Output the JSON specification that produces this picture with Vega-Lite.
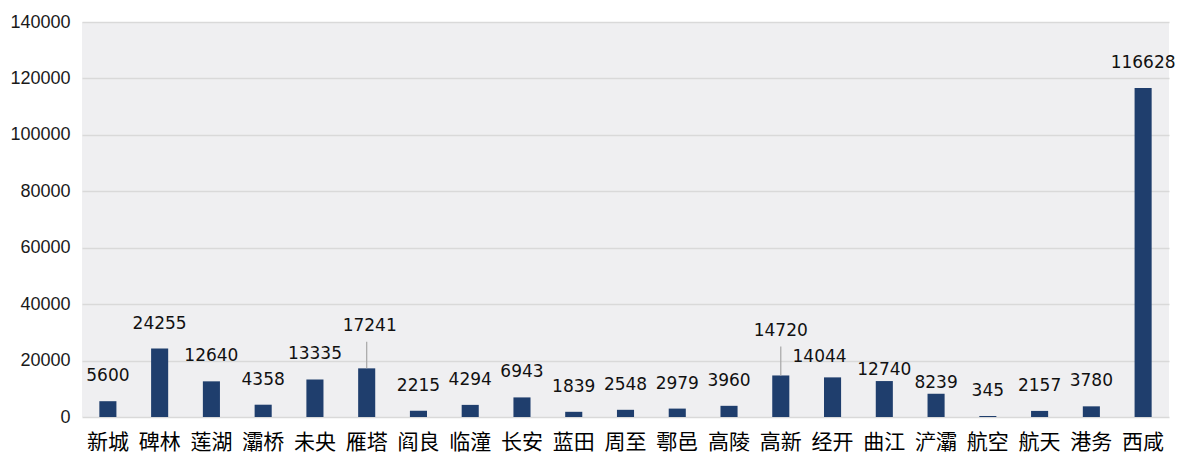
{
  "$schema": "https://vega.github.io/schema/vega-lite/v6.json",
  "width": 1087,
  "height": 395,
  "autosize": {"type": "none"},
  "padding": {"left": 82, "top": 22, "right": 10, "bottom": 38},
  "background": "white",
  "config": {"view": {"fill": "#efeff1", "stroke": null}},
  "data": {"values": [
    {"district": "新城", "value": 5600},
    {"district": "碑林", "value": 24255},
    {"district": "莲湖", "value": 12640},
    {"district": "灞桥", "value": 4358},
    {"district": "未央", "value": 13335},
    {"district": "雁塔", "value": 17241},
    {"district": "阎良", "value": 2215},
    {"district": "临潼", "value": 4294},
    {"district": "长安", "value": 6943},
    {"district": "蓝田", "value": 1839},
    {"district": "周至", "value": 2548},
    {"district": "鄠邑", "value": 2979},
    {"district": "高陵", "value": 3960},
    {"district": "高新", "value": 14720},
    {"district": "经开", "value": 14044},
    {"district": "曲江", "value": 12740},
    {"district": "浐灞", "value": 8239},
    {"district": "航空", "value": 345},
    {"district": "航天", "value": 2157},
    {"district": "港务", "value": 3780},
    {"district": "西咸", "value": 116628}
  ]},
  "encoding": {
    "x": {
      "field": "district", "type": "nominal", "sort": null,
      "scale": {"paddingInner": 0.67, "paddingOuter": 0.335},
      "axis": {"title": null, "labelAngle": 0, "domain": false, "ticks": false,
               "labelFont": "Noto Sans CJK SC", "labelFontSize": 21, "labelColor": "#000000",
               "labelPadding": 14}
    },
    "y": {
      "field": "value", "type": "quantitative",
      "scale": {"domain": [0, 140000], "nice": false},
      "axis": {"title": null, "values": [0, 20000, 40000, 60000, 80000, 100000, 120000, 140000],
               "domain": false, "ticks": false, "grid": true, "gridColor": "#d9d9d9", "gridWidth": 1.5,
               "labelFont": "Liberation Sans", "labelFontSize": 18, "labelColor": "#1a1a1a",
               "labelPadding": 12, "format": "d"}
    }
  },
  "layer": [
    {"mark": {"type": "bar", "color": "#1f3e6d"}},
    {
      "transform": [{"filter": "datum.district == '雁塔'"}],
      "mark": {"type": "rule", "color": "#a6a6a6", "strokeWidth": 1.2},
      "encoding": {"y2": {"datum": 26700}}
    },
    {
      "transform": [{"filter": "datum.district == '高新'"}],
      "mark": {"type": "rule", "color": "#a6a6a6", "strokeWidth": 1.2},
      "encoding": {"y2": {"datum": 24950}}
    },
    {
      "transform": [{"filter": "indexof(['雁塔','高新','经开','曲江','浐灞'], datum.district) < 0"}],
      "mark": {"type": "text", "font": "DejaVu Sans", "fontSize": 17, "color": "#111111", "baseline": "middle", "dy": -25},
      "encoding": {"text": {"field": "value", "type": "quantitative", "format": "d"}}
    },
    {
      "transform": [{"filter": "datum.district == '雁塔'"}],
      "mark": {"type": "text", "font": "DejaVu Sans", "fontSize": 17, "color": "#111111", "baseline": "middle", "dy": -42, "dx": 3},
      "encoding": {"text": {"field": "value", "type": "quantitative", "format": "d"}}
    },
    {
      "transform": [{"filter": "datum.district == '高新'"}],
      "mark": {"type": "text", "font": "DejaVu Sans", "fontSize": 17, "color": "#111111", "baseline": "middle", "dy": -44},
      "encoding": {"text": {"field": "value", "type": "quantitative", "format": "d"}}
    },
    {
      "transform": [{"filter": "datum.district == '经开'"}],
      "mark": {"type": "text", "font": "DejaVu Sans", "fontSize": 17, "color": "#111111", "baseline": "middle", "dy": -20, "dx": -13},
      "encoding": {"text": {"field": "value", "type": "quantitative", "format": "d"}}
    },
    {
      "transform": [{"filter": "datum.district == '曲江' || datum.district == '浐灞'"}],
      "mark": {"type": "text", "font": "DejaVu Sans", "fontSize": 17, "color": "#111111", "baseline": "middle", "dy": -11},
      "encoding": {"text": {"field": "value", "type": "quantitative", "format": "d"}}
    }
  ]
}
